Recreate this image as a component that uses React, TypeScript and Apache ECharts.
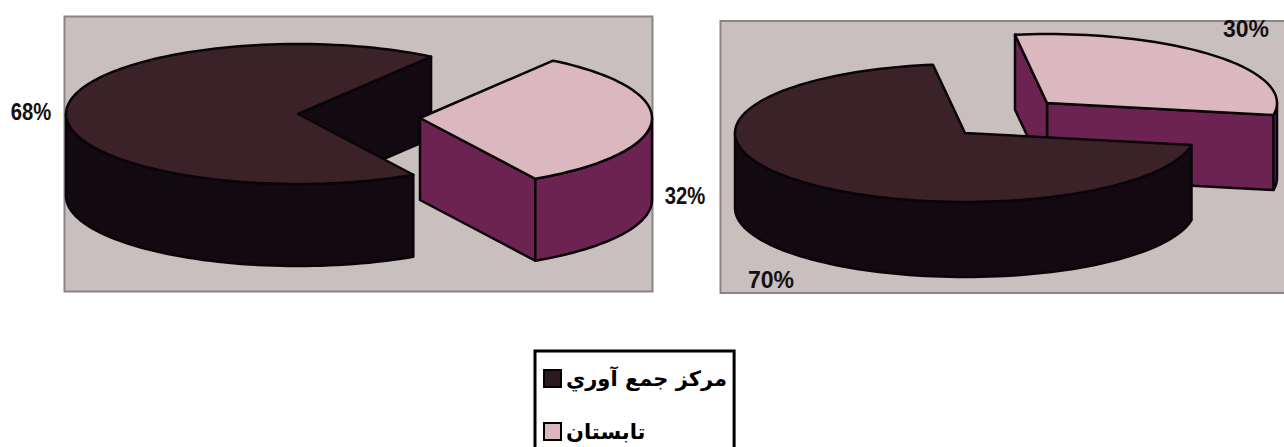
import React, { useEffect, useRef } from "react";
import * as echarts from "echarts";

const categories = ["مركز جمع آوري", "تابستان"];
const leftValues = [68, 32];
const rightValues = [70, 30];

const TOP_COLORS = ["#3b2229", "#dbb8c0"];
const WALL_COLORS = ["#120a10", "#6d2352"];
const STROKE = "#0a0508";
const PANEL = "#c9bfbf";
const PANEL_EDGE = "#8a8486";

// left and right pies: shape, rotation and where each exploded slice sits
const leftPie = { rx: 232, ry: 70, depth: 82, startAngle: 55, centers: [[298, 114], [420, 118]] };
const rightPie = { rx: 230, ry: 69, depth: 75, startAngle: 98, centers: [[965, 133], [1047, 103]] };

type Pie = typeof leftPie;

function sliceRenderer(values: number[], index: number, pie: Pie) {
  return (_params: any, api: any) => {
    const total = values.reduce((a, b) => a + b, 0);
    const before = values.slice(0, index).reduce((a, b) => a + b, 0);
    const start = pie.startAngle + (before / total) * 360;
    const end = start + (api.value(0) / total) * 360;
    const [cx, cy] = pie.centers[index];
    const pt = (deg: number, dy = 0) => {
      const r = (deg * Math.PI) / 180;
      return [cx + pie.rx * Math.cos(r), cy - pie.ry * Math.sin(r) + dy];
    };
    const arc = (a: number, b: number, dy = 0) => {
      const n = Math.max(2, Math.ceil(Math.abs(b - a) / 2));
      const out: number[][] = [];
      for (let i = 0; i <= n; i++) out.push(pt(a + ((b - a) * i) / n, dy));
      return out;
    };
    const poly = (points: number[][], fill: string) => ({
      type: "polygon",
      shape: { points },
      style: { fill, stroke: STROKE, lineWidth: 2.5, lineJoin: "round" },
    });
    const children: any[] = [];
    const wall = WALL_COLORS[index];
    const isFront = (deg: number) => Math.sin((deg * Math.PI) / 180) < 0;
    if (isFront(start - 90)) {
      children.push(poly([[cx, cy], pt(start), pt(start, pie.depth), [cx, cy + pie.depth]], wall));
    }
    if (isFront(end + 90)) {
      children.push(poly([[cx, cy], pt(end), pt(end, pie.depth), [cx, cy + pie.depth]], wall));
    }
    for (let k = -1; k <= 2; k++) {
      const a = Math.max(start, 180 + 360 * k);
      const b = Math.min(end, 360 + 360 * k);
      if (b > a) {
        children.push(poly([...arc(a, b), ...arc(b, a, pie.depth)], wall));
      }
    }
    children.push(poly([[cx, cy], ...arc(start, end)], TOP_COLORS[index]));
    return { type: "group", children };
  };
}

function sliceSeries(values: number[], index: number, pie: Pie) {
  return {
    type: "custom",
    name: categories[index],
    coordinateSystem: "none",
    silent: true,
    itemStyle: { color: index === 0 ? "#2b1820" : TOP_COLORS[index] },
    renderItem: sliceRenderer(values, index, pie),
    data: [[values[index]]],
  };
}

const labelFont = (size: number) => ({
  fontFamily: "Liberation Sans",
  fontWeight: "bold",
  fontSize: size,
  fill: "#141012",
  textAlign: "center",
  textVerticalAlign: "middle",
});

export default function App() {
  const ref = useRef<HTMLDivElement>(null);
  useEffect(() => {
    const chart = echarts.init(ref.current!, null, { renderer: "svg" });
    chart.setOption({
      animation: false,
      backgroundColor: "#ffffff",
      graphic: [
        { type: "rect", shape: { x: 64.5, y: 16.5, width: 588, height: 275 }, style: { fill: PANEL, stroke: PANEL_EDGE, lineWidth: 2 } },
        { type: "rect", shape: { x: 720.5, y: 21, width: 575, height: 272 }, style: { fill: PANEL, stroke: PANEL_EDGE, lineWidth: 2 } },
        { type: "text", x: 31, y: 112, scaleX: 0.88, style: { ...labelFont(23), text: `${leftValues[0]}%` } },
        { type: "text", x: 685, y: 196, scaleX: 0.88, style: { ...labelFont(23), text: `${leftValues[1]}%` } },
        { type: "text", x: 771, y: 280, scaleX: 1, style: { ...labelFont(23), text: `${rightValues[0]}%` } },
        { type: "text", x: 1246, y: 29, scaleX: 1, style: { ...labelFont(23), text: `${rightValues[1]}%` } },
      ],
      legend: {
        show: true,
        orient: "vertical",
        left: 535,
        top: 351,
        height: 140,
        data: categories,
        backgroundColor: "#ffffff",
        borderColor: "#000000",
        borderWidth: 3,
        padding: [17, 7, 40, 8],
        itemWidth: 17,
        itemHeight: 17,
        itemGap: 32,
        align: "left",
        icon: "rect",
        itemStyle: { borderColor: "#000000", borderWidth: 2 },
        textStyle: { fontFamily: "DejaVu Sans", fontWeight: "bold", fontSize: 21, color: "#000000" },
      },
      series: [
        sliceSeries(leftValues, 0, leftPie),
        sliceSeries(leftValues, 1, leftPie),
        sliceSeries(rightValues, 1, rightPie),
        sliceSeries(rightValues, 0, rightPie),
      ],
    });
    return () => chart.dispose();
  }, []);
  return <div ref={ref} style={{ position: "absolute", left: 0, top: 0, width: 1284, height: 447 }} />;
}
